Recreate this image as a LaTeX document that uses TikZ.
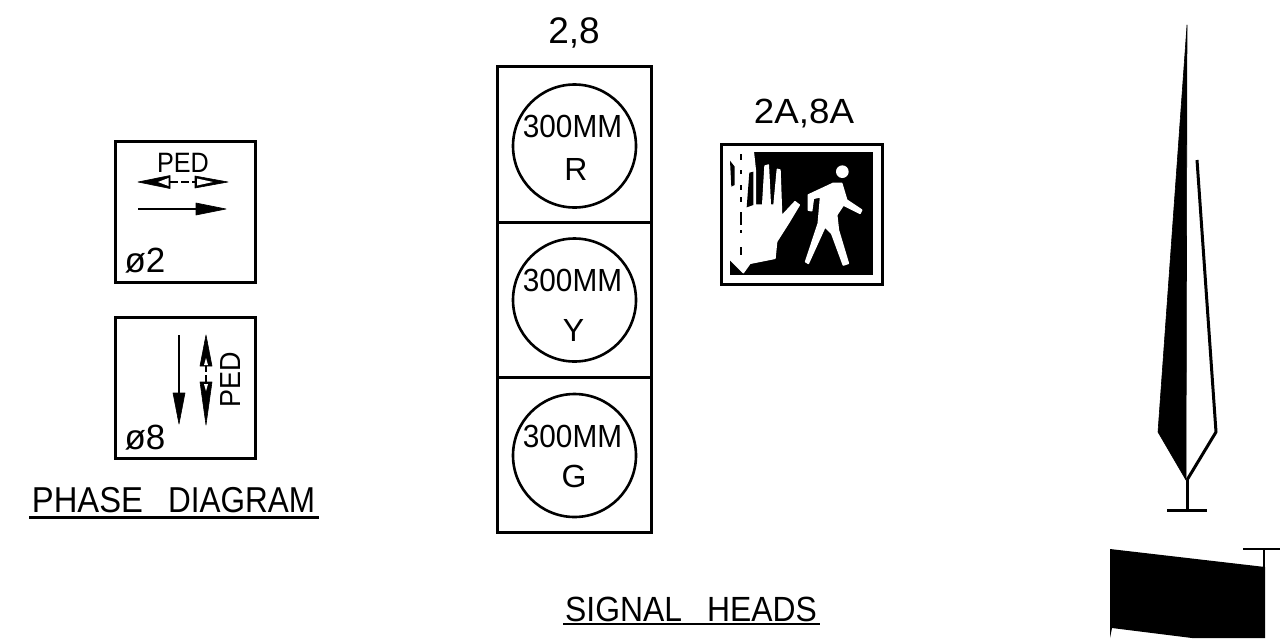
\documentclass[tikz,border=0pt]{standalone}
\usepackage{graphicx}
\usepackage{fontspec}
\setmainfont{Liberation Sans}
\newcommand{\sqz}[2]{\scalebox{#1}[1]{#2}}
\tikzset{
  lbl/.style={inner sep=0pt,text=black,font=\fontsize{32}{32}\selectfont},
  big/.style={inner sep=0pt,text=black,font=\fontsize{35}{35}\selectfont},
  frame/.style={draw=black,line width=3pt,fill=white},
  wire/.style={draw=black,line width=2.6pt},
  solidfill/.style={fill=black,draw=black,line width=0.6pt,line join=round},
  whitefill/.style={fill=white,draw=none}
}
\begin{document}
\begin{tikzpicture}[x=1pt,y=-1pt]
\useasboundingbox (0,0) rectangle (1280,638);
\fill[white] (0,0) rectangle (1280,638);
% phase boxes
\node[frame,minimum width=140pt,minimum height=141pt,inner sep=0pt] (ph2) at (185,211.5) {};
\node[frame,minimum width=140pt,minimum height=141pt,inner sep=0pt] (ph8) at (185,387.5) {};
\node[lbl,font=\fontsize{28}{28}\selectfont] (pedA) at (183,163) {\sqz{0.9}{PED}};
\node[big] (o2) at (145,261) {ø2};
\node[big] (o8) at (145,438) {ø8};
\node[lbl,font=\fontsize{29}{29}\selectfont,rotate=90] (pedB) at (231,380) {\sqz{0.93}{PED}};
% phase 2 arrows
\draw[line width=2pt,dash pattern=on 8pt off 3pt] (170,182) -- (195,182);
\path[solidfill] (138,182) -- (170,175.5) -- (170,188.5) -- cycle;
\path[whitefill] (158,182) -- (168.5,178) -- (168.5,186) -- cycle;
\path[solidfill] (228,182) -- (195,176) -- (195,188) -- cycle;
\path[whitefill] (197,178.5) -- (197,185.5) -- (213,182) -- cycle;
\draw[line width=1.8pt] (138,209) -- (198,209);
\path[solidfill] (226,209) -- (196,203) -- (196,215) -- cycle;
% phase 8 arrows
\draw[line width=2pt] (179,335) -- (179,395);
\path[solidfill] (179,424) -- (173,393) -- (185,393) -- cycle;
\draw[line width=2.6pt,dash pattern=on 8pt off 3pt] (206,364) -- (206,384);
\path[solidfill] (206,335) -- (200,366) -- (212,366) -- cycle;
\path[whitefill] (206,358) -- (204,365) -- (208,365) -- cycle;
\path[solidfill] (206,425) -- (200,382) -- (212,382) -- cycle;
\path[whitefill] (206,391) -- (204,384) -- (208,384) -- cycle;
% titles
\node[lbl,font=\fontsize{36}{36}\selectfont] (tphase) at (173.5,500) {\sqz{0.91}{PHASE}\hspace{25pt}\sqz{0.875}{DIAGRAM}};
\node[big] (tsig) at (691,609.5) {\sqz{0.91}{SIGNAL}\hspace{25pt}\sqz{0.91}{HEADS}};
\coordinate (u1a) at (29,517.5); \coordinate (u1b) at (319,517.5);
\coordinate (u2a) at (563,624); \coordinate (u2b) at (820,624);
\draw[wire] (u1a) -- (u1b);
\draw[wire] (u2a) -- (u2b);
% signal head
\node[frame,minimum width=154pt,minimum height=156pt,inner sep=0pt] (h1) at (574,144) {};
\node[frame,minimum width=154pt,minimum height=155pt,inner sep=0pt] (h2) at (574,299.5) {};
\node[frame,minimum width=154pt,minimum height=155pt,inner sep=0pt] (h3) at (574,454.5) {};
\node[draw=black,line width=2.6pt,circle,minimum size=123pt,inner sep=0pt] (c1) at (574.5,146) {};
\node[draw=black,line width=2.6pt,circle,minimum size=123pt,inner sep=0pt] (c2) at (574.5,300) {};
\node[draw=black,line width=2.6pt,circle,minimum size=123pt,inner sep=0pt] (c3) at (574.5,455.5) {};
\node[lbl] (s1) at (572.5,126.5) {\sqz{0.93}{300MM}};
\node[lbl] (r) at (576,169) {R};
\node[lbl] (s2) at (572.5,280.5) {\sqz{0.93}{300MM}};
\node[lbl] (y) at (573.5,330) {Y};
\node[lbl] (s3) at (572.5,436.5) {\sqz{0.93}{300MM}};
\node[lbl] (g) at (574,476.5) {G};
\node[lbl,font=\fontsize{37}{37}\selectfont] (t28) at (574,33) {2,8};
\node[big] (t2a) at (804,114) {\sqz{1.05}{2A,8A}};
% ped signal
\begin{scope}[shift={(700,90)},scale=1/3]
\draw[black,line width=3pt] (65,163) rectangle (548,583);
\fill[black] (90,187) rectangle (520,555);
\path[fill=white,draw=white,line width=1.4pt,line join=round] (90,185) -- (160,185) -- (166,240) -- (166,345) -- (188,345) -- (195,228) -- (205,225) -- (211,345) -- (222,345) -- (232,238) -- (240,240) -- (245,378) -- (285,335) -- (298,345) -- (265,400) -- (230,455) -- (225,505) -- (150,520) -- (130,548) -- (90,508) -- cycle;
\fill[black] (148,248) -- (160,245) -- (160,345) -- (140,352) -- cycle;
\fill[black] (90,212) -- (104,230) -- (104,285) -- (94,290) -- cycle;
\foreach \yy/\hh in {192/18,240/12,285/15,320/15,365/40,420/10,470/25} \fill[black] (120,\yy) rectangle (127,\yy+\hh);
\fill[white] (427,245) circle (19);
\path[fill=white,draw=white,line width=1.6pt,line join=round] (325,315) -- (400,280) -- (425,280) -- (440,330) -- (485,360) -- (480,370) -- (430,345) -- (410,375) -- (415,420) -- (445,520) -- (430,525) -- (395,430) -- (375,410) -- (325,520) -- (317,515) -- (355,400) -- (362,320) -- (340,325) -- (335,362) -- (325,360) -- cycle;
\end{scope}
% right hand figure
\path[solidfill] (1187,25) -- (1158,432) -- (1186,480) -- (1187,25) -- cycle;
\draw[black,line width=3pt,line join=round] (1197,160) -- (1216,432) -- (1187,480);
\draw[black,line width=3pt] (1187,480) -- (1187,510);
\draw[black,line width=3pt] (1167,510) -- (1207,510);
\fill[black] (1110,549) -- (1265,567) -- (1265,638) -- (1192,638) -- (1112,628) -- (1110,638) -- cycle;
\draw[black,line width=2.4pt] (1264,549) -- (1264,567);
\draw[black,line width=2.4pt] (1243,549) -- (1280,549);
\end{tikzpicture}
\end{document}
